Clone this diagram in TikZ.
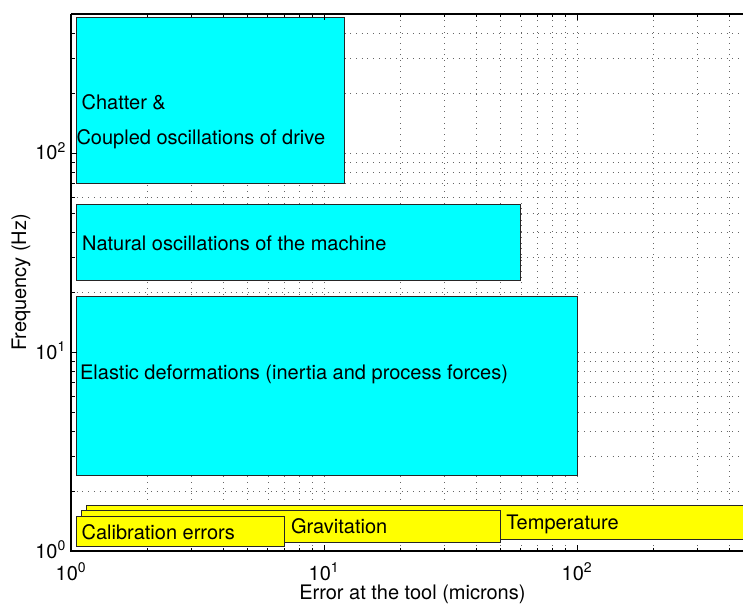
\documentclass[tikz,border=0pt]{standalone}
\usepackage{fontspec}
\setmainfont{TeX Gyre Heros}
\definecolor{aqua}{RGB}{0,255,255}
\definecolor{lemon}{RGB}{255,255,0}

\begin{document}
\begin{tikzpicture}[x=253pt,y=199pt,
        cyanbox/.style={draw=black!85,line width=0.8pt,fill=aqua},
        yellowbox/.style={draw=black!85,line width=0.8pt,fill=lemon},
        gridline/.style={black!60,line width=0.7pt,dash pattern=on 0.7pt off 5pt},
        lbl/.style={anchor=base west,inner sep=0pt},
        xtick/.style={anchor=base,inner sep=0pt,yshift=-29pt},
        ytick/.style={anchor=base east,inner sep=0pt,xshift=-5pt,yshift=-7pt}]
    \fontsize{20}{24}\selectfont
    \useasboundingbox (-71pt,-52pt) rectangle (672pt,551pt);
    \clip (-71pt,-52pt) rectangle (672pt,551pt);

    \coordinate (o) at (0,0);
    \coordinate (t) at (0,{log10(500)});
    \coordinate (r) at (3,0);
    \coordinate (tr) at (3,{log10(500)});

    % grid
    \foreach \v in {2,3,4,5,6,7,8,9,10,20,30,40,50,60,70,80,90,100,200,300,400}{
        \draw[gridline] ({log10(\v)},0) -- ({log10(\v)},{log10(500)});
        \draw[gridline] (0,{log10(\v)}) -- (3,{log10(\v)});
    }

    % error sources
    \draw[cyanbox] ({log10(1.05)},{log10(70)}) rectangle ({log10(12)},{log10(480)});
    \draw[cyanbox] ({log10(1.05)},{log10(23)}) rectangle ({log10(60)},{log10(55)});
    \draw[cyanbox] ({log10(1.05)},{log10(2.4)}) rectangle ({log10(100)},{log10(19)});
    \draw[yellowbox] ({log10(1.15)},{log10(1.15)}) rectangle (3,{log10(1.7)});
    \draw[yellowbox] ({log10(1.1)},{log10(1.1)}) rectangle ({log10(50)},{log10(1.6)});
    \draw[yellowbox] ({log10(1.05)},{log10(1.05)}) rectangle ({log10(7)},{log10(1.5)});

    \node[lbl] (chatter) at ({log10(1.1)},{log10(166)}) {Chatter \&};
    \node[lbl] (coupled) at ({log10(1.05)},{log10(110)}) {Coupled oscillations of drive};
    \node[lbl] (natural) at ({log10(1.105)},{log10(32.2)}) {Natural oscillations of the machine};
    \node[lbl] (elastic) at ({log10(1.085)},{log10(7.3)}) {Elastic deformations (inertia and process forces)};
    \node[lbl] (calib) at ({log10(1.1)},{log10(1.136)}) {Calibration errors};
    \node[lbl] (grav) at ({log10(7.4)},{log10(1.23)}) {Gravitation};
    \node[lbl] (temp) at ({log10(52.5)},{log10(1.28)}) {Temperature};

    % axes and ticks
    \foreach \v in {2,3,4,5,6,7,8,9,20,30,40,50,60,70,80,90,200,300,400}{
        \draw[line width=0.8pt] ({log10(\v)},0) -- ++(0pt,3.5pt);
        \draw[line width=0.8pt] ({log10(\v)},{log10(500)}) -- ++(0pt,-3.5pt);
        \draw[line width=0.8pt] (0,{log10(\v)}) -- ++(3.5pt,0pt);
    }
    \foreach \d in {0,1,2}{
        \draw[line width=0.8pt] (\d,0) -- ++(0pt,6pt);
        \draw[line width=0.8pt] (\d,{log10(500)}) -- ++(0pt,-6pt);
        \draw[line width=0.8pt] (0,\d) -- ++(6pt,0pt);
    }
    \draw[line width=1.8pt] (t) -- (o) -- (r);
    \draw[line width=1.8pt] (t) -- (tr);

    \node[xtick] (x0) at (0,0) {10\textsuperscript{0}};
    \node[xtick] (x1) at (1,0) {10\textsuperscript{1}};
    \node[xtick] (x2) at (2,0) {10\textsuperscript{2}};
    \node[ytick] (y0) at (0,0) {10\textsuperscript{0}};
    \node[ytick] (y1) at (0,1) {10\textsuperscript{1}};
    \node[ytick] (y2) at (0,2) {10\textsuperscript{2}};

    \node[anchor=base,inner sep=0pt] (xlabel) at ({log10(500)/2},0) [yshift=-48pt] {Error at the tool (microns)};
    \node[anchor=base,inner sep=0pt,rotate=90] (ylabel) at ({-45/253},{log10(500)/2}) {Frequency (Hz)};
\end{tikzpicture}
\end{document}
